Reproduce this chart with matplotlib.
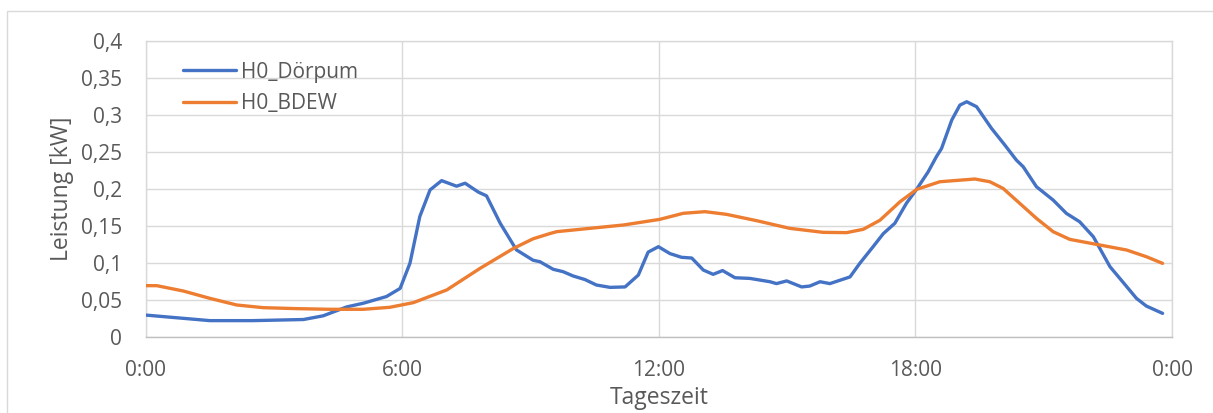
import matplotlib.pyplot as plt
from matplotlib.patches import Rectangle

# load profiles over one day (hour of day, kW)
dorpum_h = [0.0, 0.6, 1.5, 2.5, 3.69, 4.15, 4.7, 5.09, 5.63, 5.95, 6.18, 6.41, 6.65,
            6.92, 7.27, 7.47, 7.78, 7.97, 8.29, 8.67, 9.06, 9.22, 9.53, 9.76, 10.0,
            10.27, 10.54, 10.86, 11.21, 11.52, 11.75, 11.99, 12.26, 12.53, 12.77,
            13.04, 13.27, 13.49, 13.78, 14.13, 14.6, 14.75, 14.99, 15.34, 15.53,
            15.77, 16.0, 16.47, 16.7, 17.01, 17.25, 17.52, 17.79, 18.03, 18.3,
            18.49, 18.61, 18.85, 19.04, 19.2, 19.43, 19.78, 20.09, 20.36, 20.52,
            20.83, 21.22, 21.53, 21.84, 22.16, 22.55, 22.78, 23.17, 23.4, 23.78]
dorpum_kw = [0.030, 0.027, 0.0225, 0.0225, 0.024, 0.029, 0.041, 0.046, 0.055, 0.066,
             0.100, 0.163, 0.199, 0.2115, 0.204, 0.208, 0.196, 0.191, 0.154, 0.118,
             0.104, 0.102, 0.0918, 0.0886, 0.0827, 0.078, 0.0706, 0.0674, 0.068,
             0.084, 0.115, 0.1223, 0.113, 0.108, 0.107, 0.0908, 0.085, 0.0901,
             0.0804, 0.0795, 0.075, 0.0725, 0.0761, 0.068, 0.0692, 0.075, 0.0725,
             0.0815, 0.0999, 0.1223, 0.140, 0.154, 0.181, 0.200, 0.2236, 0.2438,
             0.2548, 0.2933, 0.3135, 0.318, 0.3113, 0.282, 0.2596, 0.2393, 0.2303,
             0.2033, 0.1853, 0.1673, 0.156, 0.1358, 0.0953, 0.0795, 0.0525, 0.0422,
             0.0323]

bdew_h = [0.0, 0.26, 0.88, 1.5, 2.13, 2.75, 3.53, 4.31, 5.09, 5.71, 6.26, 7.04, 7.82,
          8.6, 9.06, 9.45, 9.61, 10.39, 11.17, 12.02, 12.57, 13.08, 13.58, 14.29,
          15.06, 15.84, 16.39, 16.78, 17.17, 17.64, 18.03, 18.57, 19.39, 19.74,
          20.05, 20.44, 20.83, 21.22, 21.61, 22.23, 22.94, 23.4, 23.78]
bdew_kw = [0.0697, 0.0697, 0.0625, 0.0526, 0.0436, 0.040, 0.0387, 0.0378, 0.0378,
           0.0405, 0.0468, 0.0639, 0.0931, 0.120, 0.133, 0.140, 0.1426, 0.1471,
           0.1516, 0.1592, 0.1674, 0.1696, 0.166, 0.1574, 0.1471, 0.1417, 0.1413,
           0.1458, 0.158, 0.183, 0.1997, 0.210, 0.2137, 0.210, 0.201, 0.1808,
           0.1606, 0.1426, 0.1322, 0.1255, 0.1178, 0.1088, 0.0998]

x_ticks = [0, 6, 12, 18, 24]
x_labels = ['0:00', '6:00', '12:00', '18:00', '0:00']
y_ticks = [0, 0.05, 0.1, 0.15, 0.2, 0.25, 0.3, 0.35, 0.4]
y_labels = ['0', '0,05', '0,1', '0,15', '0,2', '0,25', '0,3', '0,35', '0,4']

plt.rcParams['font.family'] = ['Open Sans', 'DejaVu Sans']
txt = '#595959'
grid = '#d9d9d9'

fig = plt.figure(figsize=(12.13, 4.13), dpi=100)
# outer chart frame
fig.patches.append(Rectangle((7 / 1213, -0.1), 1.2, 1 - 10.5 / 413 + 0.1,
                             transform=fig.transFigure, fill=False,
                             edgecolor=grid, linewidth=1.0))

ax = fig.add_axes([0.1201, 0.1833, 0.8461, 0.7174])
ax.plot(dorpum_h, dorpum_kw, color='#4472C4', lw=2.4, label='H0_Dörpum',
        solid_joinstyle='round', solid_capstyle='round', zorder=3)
ax.plot(bdew_h, bdew_kw, color='#ED7D31', lw=2.4, label='H0_BDEW',
        solid_joinstyle='round', solid_capstyle='round', zorder=3)

ax.set_xlim(0, 24)
ax.set_ylim(0, 0.4)
ax.set_xticks(x_ticks)
ax.set_xticklabels(x_labels)
ax.set_yticks(y_ticks)
ax.set_yticklabels(y_labels)
ax.tick_params(length=0, labelsize=15, colors=txt)
ax.tick_params(axis='y', pad=17)
ax.tick_params(axis='x', pad=16)
ax.grid(True, color=grid, lw=1.0)
ax.set_axisbelow(True)
for s in ax.spines.values():
    s.set_color(grid)
    s.set_linewidth(1.0)
ax.spines['bottom'].set_color('#bfbfbf')

ax.set_xlabel('Tageszeit', fontsize=16.5, color=txt, labelpad=4)
ax.set_ylabel('Leistung [kW]', fontsize=16.5, color=txt, labelpad=5)

leg = ax.legend(loc='upper left', bbox_to_anchor=(0.036, 0.93), frameon=False,
                fontsize=15, handlelength=2.55, handletextpad=0.24, labelspacing=0.5,
                borderaxespad=0, borderpad=0)
for t in leg.get_texts():
    t.set_color(txt)

fig.savefig('out.png', dpi=100, facecolor='white')
